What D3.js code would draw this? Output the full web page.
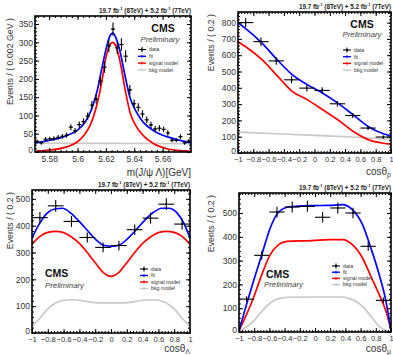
<!DOCTYPE html>
<html>
<head>
<meta charset="utf-8">
<script src="https://cdn.jsdelivr.net/npm/d3@7"></script>
<style>
  html, body { margin: 0; padding: 0; background: #fff; }
  svg { display: block; font-family: "Liberation Sans", Arial, Helvetica, sans-serif; }
</style>
</head>
<body>
<svg id="fig" width="393" height="355"></svg>
<script>
// ---------------- data ----------------
const legendLabels = ["data", "fit", "signal model", "bkg model"];
const legendColors = ["#000000", "#0000ff", "#ff0000", "#c8c8c8"];

// J/psi Lambda invariant mass
const massDomain = [5.57, 5.68];
const massYDomain = [0, 372];
const massXTicks = [5.58, 5.60, 5.62, 5.64, 5.66];
const massYTicks = [0, 50, 100, 150, 200, 250, 300, 350];
const massCounts = [29, 25, 35, 36, 37, 40, 43, 46, 68, 58, 75, 83, 98, 128, 145, 194, 232, 290,
                    336, 285, 294, 262, 170, 132, 122, 104, 88, 74, 63, 65, 62, 52, 32, 32, 42, 25, 30];
const massFit = [[5.570, 25], [5.575, 28], [5.580, 32], [5.585, 36], [5.590, 41], [5.595, 49],
                 [5.600, 60], [5.605, 80], [5.608, 100], [5.611, 130], [5.614, 170], [5.617, 226],
                 [5.620, 280], [5.6229, 318], [5.6248, 325], [5.6271, 312], [5.6299, 276],
                 [5.6335, 208], [5.637, 149], [5.6417, 108], [5.6464, 81], [5.6534, 59],
                 [5.6629, 42], [5.6723, 32], [5.680, 25]];
const massSignal = [[5.570, 2], [5.580, 5], [5.5923, 14], [5.600, 28], [5.605, 48], [5.6088, 72],
                    [5.6135, 127], [5.617, 190], [5.620, 258], [5.6229, 294], [5.6248, 300],
                    [5.6271, 289], [5.6299, 249], [5.6335, 172], [5.637, 108], [5.6417, 68],
                    [5.6464, 45], [5.6534, 23], [5.6629, 9], [5.6723, 4], [5.680, 2]];
const massBkg = [[5.570, 24], [5.625, 23.5], [5.680, 23]];

// angular distributions
const cosXTicks = [-1, -0.8, -0.6, -0.4, -0.2, 0, 0.2, 0.4, 0.6, 0.8, 1];
const cosBinCenters = [-0.9, -0.7, -0.5, -0.3, -0.1, 0.1, 0.3, 0.5, 0.7, 0.9];

const protonYTicks = [0, 100, 200, 300, 400, 500, 600, 700, 800];
const protonCounts = [800, 683, 565, 449, 398, 384, 302, 230, 153, 98];
const protonFit = [[-1, 800], [-0.903, 765], [-0.683, 673], [-0.486, 571], [-0.288, 479],
                   [-0.09, 418], [0.108, 367], [0.305, 306], [0.503, 235], [0.701, 163],
                   [0.899, 118], [1, 105]];
const protonSignal = [[-1, 683], [-0.903, 653], [-0.683, 571], [-0.486, 473], [-0.288, 377],
                      [-0.09, 326], [0.108, 265], [0.305, 204], [0.503, 133], [0.701, 82],
                      [0.899, 60], [1, 55]];
const protonBkg = [[-1, 128], [-0.5, 118], [0, 108], [0.5, 98], [1, 84]];

const lambdaYTicks = [0, 100, 200, 300, 400, 500];
const lambdaCounts = [430, 474, 416, 356, 319, 326, 385, 428, 480, 406];
const lambdaFit = [[-1, 354], [-0.915, 403], [-0.808, 447], [-0.701, 463], [-0.615, 465],
                   [-0.509, 447], [-0.402, 416], [-0.295, 381], [-0.188, 347], [-0.081, 326],
                   [0.004, 323], [0.111, 329], [0.218, 354], [0.325, 387], [0.432, 422],
                   [0.538, 450], [0.645, 465], [0.731, 465], [0.838, 447], [0.923, 409], [1, 354]];
const lambdaSignal = [[-1, 331], [-0.9, 360], [-0.8, 375], [-0.7, 379], [-0.6, 374], [-0.5, 358],
                      [-0.4, 334], [-0.3, 300], [-0.2, 262], [-0.1, 226], [0, 211], [0.1, 226],
                      [0.2, 262], [0.3, 300], [0.4, 334], [0.5, 358], [0.6, 374], [0.7, 379],
                      [0.8, 375], [0.9, 360], [1, 331]];
const lambdaBkg = [[-1, 25], [-0.9, 55], [-0.8, 90], [-0.7, 112], [-0.6, 122], [-0.5, 124],
                   [-0.4, 122], [-0.3, 117], [-0.2, 113], [-0.1, 112], [0, 112], [0.1, 112],
                   [0.2, 113], [0.3, 117], [0.4, 122], [0.5, 124], [0.6, 122], [0.7, 112],
                   [0.8, 90], [0.9, 55], [1, 25]];

const muonYTicks = [0, 100, 200, 300, 400, 500];
const muonCounts = [138, 322, 504, 525, 528, 482, 521, 500, 360, 133];
const muonFit = [[-1, 5], [-0.921, 94], [-0.81, 213], [-0.70, 325], [-0.589, 437], [-0.479, 504],
                 [-0.369, 524], [-0.258, 528], [-0.0375, 531], [0.183, 532], [0.36, 535],
                 [0.492, 514], [0.625, 451], [0.735, 353], [0.845, 241], [0.934, 129], [1, 5]];
const muonSignal = [[-1, 5], [-0.92, 60], [-0.81, 143], [-0.70, 241], [-0.589, 325], [-0.479, 367],
                    [-0.369, 381], [-0.0375, 384], [0.183, 388], [0.36, 388], [0.492, 367],
                    [0.625, 311], [0.735, 234], [0.845, 157], [0.934, 87], [1, 10]];
const muonBkg = [[-1, 0], [-0.92, 18], [-0.81, 45], [-0.70, 87], [-0.589, 122], [-0.479, 140],
                 [-0.369, 146], [-0.0375, 147], [0.36, 147], [0.492, 136], [0.625, 108],
                 [0.735, 66], [0.845, 24], [0.934, 6], [1, 0]];

// ---------------- drawing ----------------
const svg = d3.select("#fig");
svg.append("rect").attr("width", 393).attr("height", 355).attr("fill", "#fff");

const fmtTick = v => {
  const s = String(+v.toFixed(3));
  return s.replace("-", "\u2212");
};

function minorValues(domain, step) {
  const out = [];
  const n0 = Math.ceil(domain[0] / step - 1e-6), n1 = Math.floor(domain[1] / step + 1e-6);
  for (let i = n0; i <= n1; i++) out.push(+(i * step).toFixed(6));
  return out;
}

function drawPanel(p, idx) {
  const g = svg.append("g");
  const x = d3.scaleLinear().domain(p.xDomain).range([p.left, p.right]);
  const y = d3.scaleLinear().domain(p.yDomain).range([p.bottom, p.top]);

  const clipId = "clip" + idx;
  g.append("clipPath").attr("id", clipId).append("rect")
    .attr("x", p.left).attr("y", p.top)
    .attr("width", p.right - p.left).attr("height", p.bottom - p.top);

  const plot = g.append("g").attr("clip-path", `url(#${clipId})`);
  const line = d3.line().x(d => x(d[0])).y(d => y(d[1])).curve(d3.curveMonotoneX);

  // model curves
  [[p.bkg, legendColors[3]], [p.signal, legendColors[2]], [p.fit, legendColors[1]]].forEach(([c, col]) => {
    plot.append("path").datum(c).attr("d", line)
      .attr("fill", "none").attr("stroke", col).attr("stroke-width", 1.7);
  });

  // data points with error bars
  const pts = p.counts.map((n, i) => ({ c: p.centers[i], n }));
  const dg = plot.append("g").attr("stroke", "#000").attr("stroke-width", 1.1);
  dg.selectAll("line.h").data(pts).join("line")
    .attr("x1", d => x(d.c - p.binWidth / 2)).attr("x2", d => x(d.c + p.binWidth / 2))
    .attr("y1", d => y(d.n)).attr("y2", d => y(d.n));
  dg.selectAll("line.v").data(pts).join("line")
    .attr("x1", d => x(d.c)).attr("x2", d => x(d.c))
    .attr("y1", d => y(d.n - Math.sqrt(d.n))).attr("y2", d => y(d.n + Math.sqrt(d.n)));
  plot.append("g").selectAll("circle").data(pts).join("circle")
    .attr("cx", d => x(d.c)).attr("cy", d => y(d.n)).attr("r", 0.9).attr("fill", "#000");

  // axes: inward ticks on all four sides
  const majLen = 4, minLen = 2;
  const axes = g.append("g").attr("fill", "#222");
  const bottom = axes.append("g").attr("transform", `translate(0,${p.bottom})`)
    .call(d3.axisBottom(x).tickValues(p.xTicks).tickSize(-majLen).tickPadding(3.5).tickFormat(fmtTick));
  bottom.selectAll(".tick text").attr("font-size", p.xTickFont);
  bottom.append("g").call(d3.axisBottom(x).tickValues(minorValues(p.xDomain, p.xMinor)).tickSize(-minLen).tickFormat(""));
  const top = axes.append("g").attr("transform", `translate(0,${p.top})`)
    .call(d3.axisTop(x).tickValues(p.xTicks).tickSize(-majLen).tickFormat(""));
  top.append("g").call(d3.axisTop(x).tickValues(minorValues(p.xDomain, p.xMinor)).tickSize(-minLen).tickFormat(""));
  const left = axes.append("g").attr("transform", `translate(${p.left},0)`)
    .call(d3.axisLeft(y).tickValues(p.yTicks).tickSize(-majLen).tickPadding(2).tickFormat(fmtTick));
  left.selectAll(".tick text").attr("font-size", 8.5)
    .attr("dy", d => d === 0 ? "0.1em" : "0.32em");
  left.append("g").call(d3.axisLeft(y).tickValues(minorValues(p.yDomain, p.yMinor)).tickSize(-minLen).tickFormat(""));
  const right = axes.append("g").attr("transform", `translate(${p.right},0)`)
    .call(d3.axisRight(y).tickValues(p.yTicks).tickSize(-majLen).tickFormat(""));
  right.append("g").call(d3.axisRight(y).tickValues(minorValues(p.yDomain, p.yMinor)).tickSize(-minLen).tickFormat(""));
  axes.selectAll(".domain").remove();
  axes.selectAll(".tick line").attr("stroke", "#000").attr("stroke-width", 1);
  axes.selectAll(".tick text").attr("fill", "#333").attr("font-family", "Liberation Sans, Arial, sans-serif");

  // frame
  g.append("rect").attr("x", p.left).attr("y", p.top)
    .attr("width", p.right - p.left).attr("height", p.bottom - p.top)
    .attr("fill", "none").attr("stroke", "#000").attr("stroke-width", 1.6);

  // axis titles
  g.append("text")
    .attr("transform", `translate(${p.yTitleX},${p.top + 2}) rotate(-90)`)
    .attr("text-anchor", "end").attr("font-size", 8.8).attr("fill", "#333")
    .text(p.yTitle);
  const xt = g.append("text").attr("x", p.right).attr("y", p.xTitleY)
    .attr("text-anchor", "end").attr("font-size", 10).attr("fill", "#333");
  xt.append("tspan").text(p.xTitle);
  if (p.xTitleSub) {
    xt.append("tspan").attr("font-size", 7).attr("dy", 2).text(p.xTitleSub);
  }

  // luminosity header
  const lum = g.append("text").attr("x", p.right).attr("y", p.top - 3.5)
    .attr("text-anchor", "end").attr("font-size", 6.3).attr("font-weight", "bold").attr("fill", "#222");
  lum.append("tspan").text("19.7 fb");
  lum.append("tspan").attr("font-size", 4.2).attr("dy", -2.5).text("-1");
  lum.append("tspan").attr("dy", 2.5).text(" (8TeV) + 5.2 fb");
  lum.append("tspan").attr("font-size", 4.2).attr("dy", -2.5).text("-1");
  lum.append("tspan").attr("dy", 2.5).text(" (7TeV)");

  // CMS label
  g.append("text").attr("x", p.cmsX).attr("y", p.cmsY).attr("text-anchor", p.cmsAnchor)
    .attr("font-size", 10.5).attr("font-weight", "bold").attr("fill", "#111").text("CMS");
  g.append("text").attr("x", p.prelX).attr("y", p.prelY).attr("text-anchor", p.cmsAnchor)
    .attr("font-size", 7.8).attr("font-style", "italic").attr("fill", "#444").text("Preliminary");

  // legend
  const lg = g.append("g");
  legendLabels.forEach((lab, i) => {
    const ly = p.legY + i * p.legStep;
    const col = legendColors[i];
    lg.append("line").attr("x1", p.legX - 4).attr("x2", p.legX + 4).attr("y1", ly).attr("y2", ly)
      .attr("stroke", col).attr("stroke-width", i === 0 ? 1.1 : 1.4);
    lg.append("line").attr("x1", p.legX).attr("x2", p.legX).attr("y1", ly - (i === 0 ? 2.5 : 1.5)).attr("y2", ly + (i === 0 ? 2.5 : 1.5))
      .attr("stroke", col).attr("stroke-width", 1);
    if (i === 0) lg.append("circle").attr("cx", p.legX).attr("cy", ly).attr("r", 0.9).attr("fill", "#000");
    lg.append("text").attr("x", p.legX + 7).attr("y", ly + 1.8)
      .attr("font-size", 5.2).attr("fill", "#333").text(lab);
  });
}

const massBinWidth = (massDomain[1] - massDomain[0]) / massCounts.length;
const massCenters = massCounts.map((_, i) => massDomain[0] + (i + 0.5) * massBinWidth);

const panels = [
  {
    left: 35, right: 191, top: 16, bottom: 152,
    xDomain: massDomain, yDomain: massYDomain, xTicks: massXTicks, yTicks: massYTicks,
    xMinor: 0.004, yMinor: 10, xTickFont: 8.5,
    counts: massCounts, centers: massCenters, binWidth: massBinWidth,
    fit: massFit, signal: massSignal, bkg: massBkg,
    yTitle: "Events / ( 0.002 GeV )", yTitleX: 13,
    xTitle: "m(J/\u03C8  \u039B)[GeV]", xTitleY: 176,
    cmsX: 163, cmsY: 32, prelX: 160, prelY: 42, cmsAnchor: "middle",
    legX: 142, legY: 49.5, legStep: 6.8
  },
  {
    left: 238, right: 391, top: 12, bottom: 153,
    xDomain: [-1, 1], yDomain: [0, 865], xTicks: cosXTicks, yTicks: protonYTicks,
    xMinor: 0.04, yMinor: 20, xTickFont: 7.6,
    counts: protonCounts, centers: cosBinCenters, binWidth: 0.2,
    fit: protonFit, signal: protonSignal, bkg: protonBkg,
    yTitle: "Events / ( 0.2 )", yTitleX: 214,
    xTitle: "cos\u03B8", xTitleSub: "p", xTitleY: 175,
    cmsX: 362, cmsY: 28, prelX: 362, prelY: 37, cmsAnchor: "middle",
    legX: 347, legY: 50, legStep: 6.7
  },
  {
    left: 32, right: 190, top: 190, bottom: 333,
    xDomain: [-1, 1], yDomain: [0, 533], xTicks: cosXTicks, yTicks: lambdaYTicks,
    xMinor: 0.04, yMinor: 20, xTickFont: 7.6,
    counts: lambdaCounts, centers: cosBinCenters, binWidth: 0.2,
    fit: lambdaFit, signal: lambdaSignal, bkg: lambdaBkg,
    yTitle: "Events / ( 0.2 )", yTitleX: 13,
    xTitle: "cos\u03B8", xTitleSub: "\u039B", xTitleY: 352,
    cmsX: 45, cmsY: 277, prelX: 45, prelY: 288, cmsAnchor: "start",
    legX: 144, legY: 269, legStep: 6.5
  },
  {
    left: 239, right: 391, top: 193, bottom: 332,
    xDomain: [-1, 1], yDomain: [0, 584], xTicks: cosXTicks, yTicks: muonYTicks,
    xMinor: 0.04, yMinor: 20, xTickFont: 7.6,
    counts: muonCounts, centers: cosBinCenters, binWidth: 0.2,
    fit: muonFit, signal: muonSignal, bkg: muonBkg,
    yTitle: "Events / ( 0.2 )", yTitleX: 214,
    xTitle: "cos\u03B8", xTitleSub: "\u03BC", xTitleY: 352,
    cmsX: 266, cmsY: 278, prelX: 264, prelY: 287, cmsAnchor: "start",
    legX: 336, legY: 266, legStep: 6.2
  }
];

panels.forEach(drawPanel);
</script>
</body>
</html>
